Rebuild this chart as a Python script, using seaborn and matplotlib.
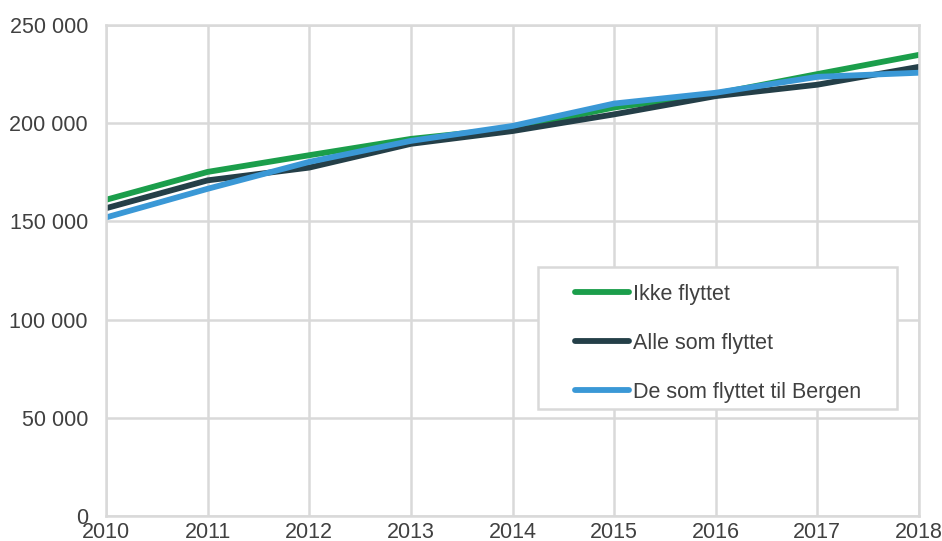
import matplotlib
matplotlib.use("Agg")
import matplotlib.pyplot as plt
from matplotlib.patches import Rectangle
from matplotlib.ticker import FuncFormatter, MultipleLocator
import pandas as pd
import seaborn as sns

years = [2010, 2011, 2012, 2013, 2014, 2015, 2016, 2017, 2018]
ikke_flyttet = [161000, 175200, 183700, 192000, 197400, 208000, 215000, 225000, 234800]
alle_som_flyttet = [156700, 170900, 177400, 189500, 196000, 204500, 213800, 219600, 228700]
flyttet_til_bergen = [152000, 166600, 180300, 191000, 198600, 210000, 215500, 223600, 225700]

series_names = ["Ikke flyttet", "Alle som flyttet", "De som flyttet til Bergen"]
series_colors = ["#1b9e4b", "#243f48", "#3a98d6"]

df = pd.concat([
    pd.DataFrame({"År": years, "Verdi": vals, "Gruppe": name})
    for name, vals in zip(series_names, [ikke_flyttet, alle_som_flyttet, flyttet_til_bergen])
])

sns.set_theme(style="white")
plt.rcParams["font.family"] = ["Liberation Sans", "DejaVu Sans"]

fig = plt.figure(figsize=(9.42, 5.41), dpi=100)
ax = fig.add_axes([106 / 942, 1 - 516 / 541, (919 - 106) / 942, (516 - 25) / 541])

sns.lineplot(data=df, x="År", y="Verdi", hue="Gruppe", hue_order=series_names,
             palette=series_colors, linewidth=4.2, ax=ax, legend=True)

grid_color = "#d9d9d9"
ax.set_xlim(2010, 2018)
ax.set_ylim(0, 250000)
ax.xaxis.set_major_locator(MultipleLocator(1))
ax.yaxis.set_major_locator(MultipleLocator(50000))
ax.yaxis.set_major_formatter(FuncFormatter(lambda v, p: f"{int(v):,}".replace(",", " ")))
ax.grid(True, color=grid_color, linewidth=1.8)
ax.set_axisbelow(True)
for s in ax.spines.values():
    s.set_visible(True)
    s.set_color(grid_color)
    s.set_linewidth(1.8)
ax.set_xlabel("")
ax.set_ylabel("")
ax.tick_params(axis="both", length=0, labelsize=15.5, colors="#404040")
ax.tick_params(axis="y", pad=13)
ax.tick_params(axis="x", pad=4.5)

handles, labels = ax.get_legend_handles_labels()
ax.legend(handles, labels, loc="upper left", bbox_to_anchor=(0.577, 0.473),
          frameon=False, fontsize=15.5, handlelength=2.5, handletextpad=0.2,
          labelspacing=1.3, borderpad=0, borderaxespad=0, labelcolor="#404040")
for lh in ax.get_legend().get_lines():
    lh.set_linewidth(4.2)
    lh.set_solid_capstyle("round")

ax.add_patch(Rectangle((0.531, 0.218), 0.973 - 0.531, 0.507 - 0.218,
                       transform=ax.transAxes, facecolor="white",
                       edgecolor=grid_color, linewidth=1.8, zorder=4))
ax.get_legend().set_zorder(5)

fig.savefig("out.png", dpi=100)
